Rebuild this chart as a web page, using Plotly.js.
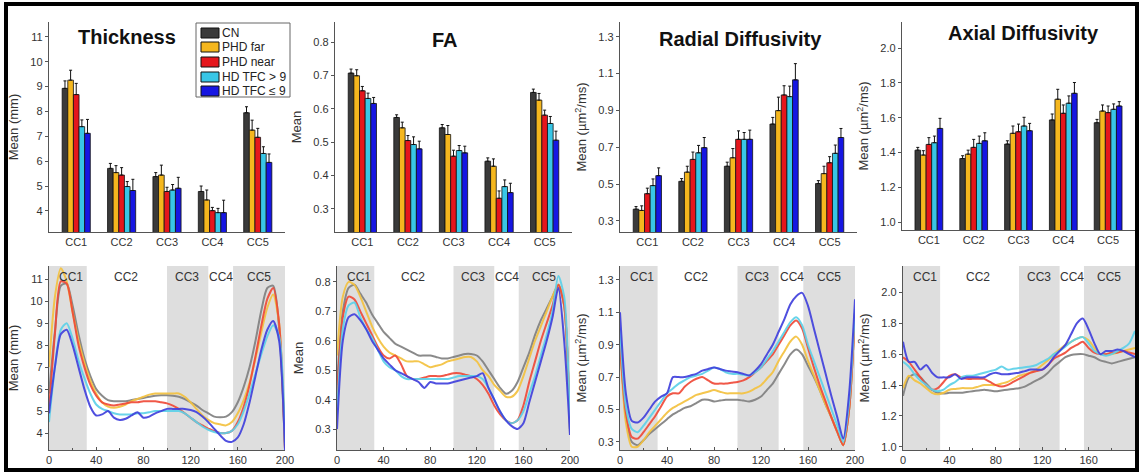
<!DOCTYPE html>
<html>
<head>
<meta charset="utf-8">
<script src="https://cdn.plot.ly/plotly-3.0.1.min.js"></script>
<style>html,body{margin:0;padding:0;background:#fff;}#chart{width:1144px;height:475px;}</style>
</head>
<body>
<div id="chart"></div>
<script>
// ---------- DATA ----------
const groups = ['CN', 'PHD far', 'PHD near', 'HD TFC > 9', 'HD TFC ≤ 9'];
const regions = ['CC1', 'CC2', 'CC3', 'CC4', 'CC5'];

// Bar panels: means and upper error bars
const thkCN = [8.93, 5.71, 5.38, 4.78, 7.95],   thkCNe = [0.30, 0.20, 0.16, 0.22, 0.24];
const thkFar = [9.26, 5.54, 5.44, 4.44, 7.25],  thkFare = [0.40, 0.28, 0.40, 0.40, 0.40];
const thkNear = [8.68, 5.44, 4.78, 4.01, 6.96], thkNeare = [0.45, 0.30, 0.17, 0.13, 0.36];
const thkHi = [7.39, 4.98, 4.84, 3.93, 6.31],   thkHie = [0.27, 0.20, 0.22, 0.17, 0.27];
const thkLo = [7.12, 4.82, 4.91, 3.93, 5.95],   thkLoe = [0.56, 0.45, 0.44, 0.50, 0.34];

const faCN = [0.707, 0.574, 0.543, 0.443, 0.649],   faCNe = [0.012, 0.008, 0.010, 0.010, 0.010];
const faFar = [0.699, 0.543, 0.523, 0.428, 0.626],  faFare = [0.018, 0.017, 0.027, 0.022, 0.020];
const faNear = [0.654, 0.505, 0.458, 0.332, 0.581], faNeare = [0.013, 0.015, 0.018, 0.022, 0.015];
const faHi = [0.631, 0.493, 0.475, 0.367, 0.556],   faHie = [0.016, 0.023, 0.015, 0.020, 0.021];
const faLo = [0.616, 0.480, 0.468, 0.349, 0.506],   faLoe = [0.018, 0.023, 0.020, 0.028, 0.027];

const rdCN = [0.364, 0.515, 0.597, 0.826, 0.503],   rdCNe = [0.014, 0.015, 0.022, 0.036, 0.016];
const rdFar = [0.357, 0.565, 0.643, 0.899, 0.557],  rdFare = [0.025, 0.032, 0.050, 0.073, 0.040];
const rdNear = [0.448, 0.634, 0.743, 0.984, 0.616], rdNeare = [0.030, 0.040, 0.046, 0.050, 0.033];
const rdHi = [0.492, 0.670, 0.743, 0.975, 0.667],   rdHie = [0.036, 0.040, 0.037, 0.057, 0.045];
const rdLo = [0.546, 0.698, 0.743, 1.066, 0.753],   rdLoe = [0.042, 0.055, 0.050, 0.088, 0.049];

const adCN = [1.413, 1.365, 1.448, 1.587, 1.571],   adCNe = [0.016, 0.016, 0.019, 0.034, 0.019];
const adFar = [1.385, 1.390, 1.510, 1.706, 1.638],  adFare = [0.025, 0.023, 0.042, 0.057, 0.035];
const adNear = [1.446, 1.429, 1.519, 1.625, 1.629], adNeare = [0.039, 0.046, 0.044, 0.048, 0.038];
const adHi = [1.456, 1.452, 1.552, 1.683, 1.648],   adHie = [0.038, 0.042, 0.050, 0.042, 0.031];
const adLo = [1.538, 1.467, 1.525, 1.740, 1.667],   adLoe = [0.058, 0.046, 0.042, 0.062, 0.025];

// Profile panels: position along the callosum
const pos = [0,5,10,15,20,25,30,35,40,45,50,55,60,65,70,75,80,85,90,95,100,105,110,115,120,125,130,135,140,145,150,155,160,165,170,175,180,185,190,195,200];

const pThkCN =   [5.8,8.6,10.7,10.8,9.8,8.5,7.4,6.6,6.0,5.7,5.5,5.45,5.45,5.45,5.5,5.55,5.6,5.65,5.7,5.72,5.72,5.7,5.65,5.55,5.4,5.25,5.05,4.9,4.75,4.72,4.75,4.95,5.4,6.1,7.0,8.2,9.6,10.6,10.7,8.8,3.3];
const pThkFar =  [7.0,10.2,11.5,10.9,9.5,8.2,7.2,6.4,5.8,5.4,5.2,5.15,5.2,5.3,5.45,5.55,5.65,5.75,5.8,5.8,5.8,5.8,5.8,5.65,5.4,5.1,4.8,4.6,4.45,4.4,4.35,4.5,4.9,5.5,6.3,7.4,8.6,9.7,10.3,9.0,3.4];
const pThkNear = [5.0,8.5,10.9,10.8,9.5,8.0,7.0,6.2,5.7,5.4,5.3,5.25,5.3,5.35,5.4,5.4,5.45,5.45,5.45,5.4,5.35,5.25,5.1,4.9,4.7,4.5,4.35,4.2,4.1,4.0,4.0,4.1,4.5,5.2,6.2,7.5,8.9,10.1,10.6,9.0,3.3];
const pThkHi =   [4.5,7.0,8.7,9.0,8.3,7.3,6.5,5.8,5.3,5.1,5.0,4.9,4.85,4.85,4.85,4.9,4.9,4.95,5.0,5.0,5.0,5.0,5.0,4.9,4.7,4.5,4.3,4.15,4.05,4.0,4.0,4.1,4.4,5.0,5.8,6.7,7.6,8.4,8.9,8.4,3.5];
const pThkLo =   [4.9,7.0,8.5,8.7,8.0,7.0,6.0,5.2,4.8,4.85,5.0,4.7,4.6,4.65,4.8,4.95,4.7,4.75,4.9,5.0,5.1,5.1,5.1,5.1,5.05,4.95,4.75,4.5,4.2,3.9,3.65,3.6,3.8,4.4,5.4,6.6,7.8,8.7,9.1,8.2,3.2];

const pFaCN =   [0.45,0.70,0.78,0.79,0.76,0.73,0.69,0.66,0.63,0.61,0.59,0.58,0.57,0.56,0.55,0.55,0.55,0.545,0.54,0.54,0.545,0.55,0.555,0.555,0.55,0.53,0.50,0.47,0.44,0.42,0.43,0.46,0.51,0.56,0.62,0.67,0.71,0.75,0.79,0.72,0.28];
const pFaFar =  [0.55,0.75,0.80,0.79,0.75,0.70,0.65,0.61,0.58,0.56,0.55,0.54,0.53,0.53,0.53,0.52,0.51,0.515,0.52,0.53,0.535,0.54,0.545,0.545,0.53,0.50,0.48,0.45,0.43,0.41,0.41,0.43,0.48,0.54,0.60,0.65,0.70,0.75,0.79,0.72,0.30];
const pFaNear = [0.40,0.68,0.75,0.74,0.70,0.66,0.62,0.58,0.55,0.54,0.55,0.52,0.48,0.47,0.47,0.475,0.48,0.48,0.48,0.485,0.49,0.49,0.485,0.48,0.47,0.45,0.42,0.38,0.35,0.33,0.32,0.33,0.38,0.46,0.53,0.60,0.66,0.72,0.79,0.72,0.30];
const pFaHi =   [0.35,0.64,0.72,0.73,0.68,0.64,0.61,0.57,0.53,0.51,0.50,0.48,0.47,0.47,0.47,0.47,0.47,0.47,0.47,0.47,0.475,0.48,0.48,0.48,0.48,0.47,0.44,0.40,0.36,0.33,0.32,0.33,0.36,0.42,0.48,0.55,0.62,0.70,0.82,0.75,0.30];
const pFaLo =   [0.30,0.60,0.68,0.69,0.67,0.64,0.60,0.57,0.54,0.52,0.50,0.49,0.48,0.47,0.46,0.44,0.46,0.455,0.455,0.455,0.46,0.465,0.47,0.475,0.48,0.49,0.44,0.40,0.36,0.33,0.31,0.30,0.32,0.39,0.46,0.53,0.60,0.68,0.78,0.60,0.28];

const pRdCN =   [0.95,0.45,0.30,0.28,0.31,0.35,0.38,0.41,0.44,0.47,0.49,0.51,0.52,0.54,0.56,0.56,0.55,0.555,0.56,0.56,0.56,0.555,0.55,0.56,0.58,0.62,0.66,0.72,0.78,0.84,0.87,0.84,0.77,0.70,0.62,0.53,0.45,0.36,0.28,0.50,1.10];
const pRdFar =  [0.90,0.42,0.27,0.27,0.31,0.36,0.40,0.44,0.48,0.51,0.53,0.55,0.57,0.59,0.60,0.61,0.62,0.61,0.60,0.60,0.60,0.60,0.61,0.63,0.65,0.69,0.73,0.80,0.86,0.92,0.95,0.90,0.80,0.71,0.62,0.53,0.45,0.36,0.28,0.50,1.10];
const pRdNear = [0.90,0.48,0.33,0.32,0.36,0.41,0.46,0.52,0.58,0.60,0.60,0.64,0.67,0.69,0.70,0.68,0.66,0.66,0.66,0.665,0.67,0.68,0.70,0.73,0.76,0.80,0.84,0.90,0.96,1.02,1.05,1.00,0.88,0.76,0.65,0.55,0.45,0.36,0.28,0.50,1.10];
const pRdHi =   [1.00,0.52,0.38,0.36,0.40,0.45,0.50,0.55,0.60,0.63,0.66,0.68,0.70,0.71,0.72,0.74,0.76,0.75,0.73,0.72,0.72,0.715,0.71,0.73,0.76,0.81,0.86,0.92,0.98,1.04,1.07,1.02,0.90,0.80,0.70,0.60,0.50,0.40,0.30,0.55,1.12];
const pRdLo =   [1.10,0.60,0.43,0.42,0.45,0.50,0.55,0.58,0.60,0.70,0.70,0.70,0.71,0.72,0.74,0.75,0.76,0.75,0.74,0.735,0.73,0.72,0.71,0.74,0.78,0.84,0.90,0.98,1.06,1.15,1.20,1.22,1.14,1.00,0.86,0.72,0.58,0.45,0.32,0.60,1.18];

const pAdCN =   [1.33,1.45,1.47,1.45,1.41,1.37,1.35,1.345,1.35,1.35,1.35,1.355,1.36,1.365,1.37,1.365,1.36,1.365,1.37,1.375,1.38,1.39,1.41,1.43,1.45,1.48,1.52,1.55,1.58,1.595,1.60,1.60,1.59,1.58,1.56,1.55,1.54,1.55,1.56,1.57,1.58];
const pAdFar =  [1.38,1.46,1.43,1.41,1.38,1.35,1.34,1.35,1.37,1.375,1.38,1.38,1.38,1.39,1.40,1.40,1.40,1.41,1.42,1.44,1.46,1.47,1.48,1.50,1.53,1.56,1.60,1.63,1.66,1.68,1.70,1.71,1.69,1.64,1.60,1.60,1.60,1.61,1.62,1.63,1.64];
const pAdNear = [1.58,1.55,1.50,1.45,1.40,1.37,1.38,1.42,1.46,1.47,1.45,1.44,1.44,1.44,1.44,1.42,1.40,1.39,1.40,1.42,1.44,1.46,1.48,1.49,1.50,1.53,1.57,1.59,1.61,1.64,1.66,1.68,1.64,1.61,1.60,1.60,1.61,1.61,1.62,1.61,1.60];
const pAdHi =   [1.55,1.52,1.47,1.43,1.40,1.37,1.36,1.37,1.40,1.42,1.45,1.46,1.46,1.47,1.48,1.49,1.50,1.52,1.50,1.505,1.51,1.515,1.52,1.53,1.55,1.57,1.60,1.62,1.65,1.68,1.70,1.71,1.67,1.62,1.60,1.59,1.60,1.62,1.64,1.67,1.75];
const pAdLo =   [1.68,1.55,1.55,1.50,1.53,1.48,1.45,1.45,1.45,1.47,1.44,1.45,1.45,1.45,1.45,1.47,1.48,1.47,1.47,1.475,1.48,1.49,1.50,1.50,1.50,1.53,1.58,1.62,1.66,1.73,1.80,1.83,1.76,1.67,1.60,1.62,1.62,1.63,1.62,1.60,1.58];

// Region boundaries (shaded bands) and label positions on profile panels
const bands = [[0, 32], [100, 135], [156, 200]];
const regionLabelPos = [19, 65, 117, 146, 178];

// ---------- STYLE ----------
const barColors = ['#3a3a3a', '#f5b71e', '#e5161c', '#38c6e6', '#1616e2'];
const lineColors = ['#808080', '#f3c13f', '#ef4a38', '#5cd0e8', '#4040dc'];
const W = 1144, H = 475;
const FONT = 'Arial, "Liberation Sans", sans-serif';
function xd(a, b) { return [a / W, b / W]; }
function yd(t, b) { return [1 - b / H, 1 - t / H]; }

const barSets = [
  {m: [thkCN, thkFar, thkNear, thkHi, thkLo], e: [thkCNe, thkFare, thkNeare, thkHie, thkLoe]},
  {m: [faCN, faFar, faNear, faHi, faLo], e: [faCNe, faFare, faNeare, faHie, faLoe]},
  {m: [rdCN, rdFar, rdNear, rdHi, rdLo], e: [rdCNe, rdFare, rdNeare, rdHie, rdLoe]},
  {m: [adCN, adFar, adNear, adHi, adLo], e: [adCNe, adFare, adNeare, adHie, adLoe]}
];
const profSets = [
  [pThkCN, pThkFar, pThkNear, pThkHi, pThkLo],
  [pFaCN, pFaFar, pFaNear, pFaHi, pFaLo],
  [pRdCN, pRdFar, pRdNear, pRdHi, pRdLo],
  [pAdCN, pAdFar, pAdNear, pAdHi, pAdLo]
];

const traces = [];
barSets.forEach((set, p) => {
  const suf = p === 0 ? '' : String(p + 1);
  set.m.forEach((vals, g) => {
    traces.push({
      type: 'bar', x: regions, y: vals, name: groups[g],
      xaxis: 'x' + suf, yaxis: 'y' + suf, showlegend: false,
      marker: {color: barColors[g], line: {color: '#111', width: 0.8}},
      error_y: {type: 'data', symmetric: false, array: set.e[g], arrayminus: [0, 0, 0, 0, 0],
                color: '#111', thickness: 1, width: 1.5},
      offsetgroup: String(g)
    });
  });
});
profSets.forEach((set, p) => {
  const suf = String(p + 5);
  set.forEach((vals, g) => {
    traces.push({
      type: 'scatter', mode: 'lines', x: pos, y: vals, name: groups[g],
      xaxis: 'x' + suf, yaxis: 'y' + suf, showlegend: false,
      line: {color: lineColors[g], width: 2, shape: 'spline', smoothing: 0.7},
      opacity: 0.92
    });
  });
});

const tickFont = {family: FONT, size: 11, color: '#333'};
const titleFont = {family: FONT, size: 13, color: '#333'};
function yax(domain, range, dtick, title, tick0, fmt) {
  const a = {domain: domain, range: range, dtick: dtick, tick0: tick0, showline: true, linecolor: '#555',
          linewidth: 1.2, showgrid: false, zeroline: false, ticks: 'outside', ticklen: 3, tickcolor: '#555',
          tickfont: tickFont, title: {text: title, font: titleFont, standoff: 8}};
  if (fmt) a.tickformat = fmt;
  return a;
}
function xbar(domain, anchor) {
  return {domain: domain, anchor: anchor, type: 'category', range: [-0.6, 4.6], showline: true,
          linecolor: '#555', linewidth: 1.2, showgrid: false, zeroline: false, ticks: '', tickfont: tickFont};
}
function xprof(domain, anchor) {
  return {domain: domain, anchor: anchor, range: [0, 200], tickvals: [0, 40, 80, 120, 160, 200], showline: true,
          linecolor: '#555', linewidth: 1.2, showgrid: false, zeroline: false, ticks: 'inside', ticklen: 3,
          tickcolor: '#555', tickfont: tickFont,
          minor: {tickvals: [20, 60, 100, 140, 180], ticks: 'inside', ticklen: 2, tickcolor: '#555'}};
}
const mu = 'Mean (µm<sup>2</sup>/ms)';
const topY = yd(22, 232), botY = yd(266, 450);

const layout = {
  width: W, height: H, margin: {l: 0, r: 0, t: 0, b: 0},
  paper_bgcolor: '#fff', plot_bgcolor: 'rgba(0,0,0,0)',
  barmode: 'group', bargap: 0.38, bargroupgap: 0, showlegend: false,
  font: {family: FONT, color: '#333'},
  xaxis: xbar(xd(49, 285), 'y'),
  yaxis: yax(topY, [3.15, 11.6], 1, 'Mean (mm)', 0),
  xaxis2: xbar(xd(335, 572), 'y2'),
  yaxis2: Object.assign(yax(topY, [0.231, 0.86], 0.1, 'Mean', 0, '.1f'), {anchor: 'x2'}),
  xaxis3: xbar(xd(620, 857), 'y3'),
  yaxis3: Object.assign(yax(topY, [0.24, 1.38], 0.2, mu, 0.1, '.1f'), {anchor: 'x3'}),
  xaxis4: xbar(xd(902, 1135), 'y4'),
  yaxis4: Object.assign(yax(yd(22, 230), [0.954, 2.15], 0.2, mu, 0, '.1f'), {anchor: 'x4'}),
  xaxis5: xprof(xd(49, 285), 'y5'),
  yaxis5: Object.assign(yax(botY, [3.23, 11.6], 1, 'Mean (mm)', 0), {anchor: 'x5'}),
  xaxis6: xprof(xd(337, 570), 'y6'),
  yaxis6: Object.assign(yax(botY, [0.229, 0.854], 0.1, 'Mean', 0, '.1f'), {anchor: 'x6'}),
  xaxis7: xprof(xd(620, 855), 'y7'),
  yaxis7: Object.assign(yax(botY, [0.25, 1.386], 0.2, mu, 0.1, '.1f'), {anchor: 'x7'}),
  xaxis8: xprof(xd(903, 1135), 'y8'),
  yaxis8: Object.assign(yax(botY, [0.98, 2.17], 0.2, mu, 0, '.1f'), {anchor: 'x8'}),
  shapes: [], annotations: []
};

// shaded region bands and region labels on profile panels
for (let p = 5; p <= 8; p++) {
  bands.forEach(b => layout.shapes.push({type: 'rect', xref: 'x' + p, yref: 'y' + p + ' domain',
    x0: b[0], x1: b[1], y0: 0, y1: 1, fillcolor: '#dedede', line: {width: 0}, layer: 'below'}));
  regions.forEach((r, i) => layout.annotations.push({xref: 'x' + p, yref: 'y' + p + ' domain',
    x: regionLabelPos[i], y: 0.94, text: r, showarrow: false, xanchor: 'center', yanchor: 'middle',
    font: {family: FONT, size: 12, color: '#333'}}));
}

// panel titles
const titles = [['Thickness', 127, 37], ['FA', 445, 40], ['Radial Diffusivity', 740, 39], ['Axial Diffusivity', 1023, 33]];
titles.forEach(t => layout.annotations.push({xref: 'paper', yref: 'paper', x: t[1] / W, y: 1 - t[2] / H,
  text: '<b>' + t[0] + '</b>', showarrow: false, xanchor: 'center', yanchor: 'middle',
  font: {family: FONT, size: 20, color: '#111'}}));

// legend (drawn manually to match the compact box)
layout.shapes.push({type: 'rect', xref: 'paper', yref: 'paper', x0: 196 / W, x1: 290 / W,
  y0: 1 - 97 / H, y1: 1 - 23 / H, line: {color: '#666', width: 1}, fillcolor: '#fff'});
const legY = [33, 47, 62, 77, 91];
groups.forEach((g, i) => {
  layout.shapes.push({type: 'rect', xref: 'paper', yref: 'paper', x0: 201 / W, x1: 219 / W,
    y0: 1 - (legY[i] + 5) / H, y1: 1 - (legY[i] - 5) / H, fillcolor: barColors[i], line: {color: '#111', width: 1}});
  layout.annotations.push({xref: 'paper', yref: 'paper', x: 220 / W, y: 1 - legY[i] / H, text: g,
    showarrow: false, xanchor: 'left', yanchor: 'middle', font: {family: FONT, size: 12, color: '#222'}});
});

// outer frame
layout.shapes.push({type: 'rect', xref: 'paper', yref: 'paper', x0: 6 / W, x1: 1137 / W,
  y0: 1 - 470 / H, y1: 1 - 4 / H, line: {color: '#000', width: 4}, fillcolor: 'rgba(0,0,0,0)'});

Plotly.newPlot('chart', traces, layout, {displayModeBar: false, staticPlot: true});
</script>
</body>
</html>
